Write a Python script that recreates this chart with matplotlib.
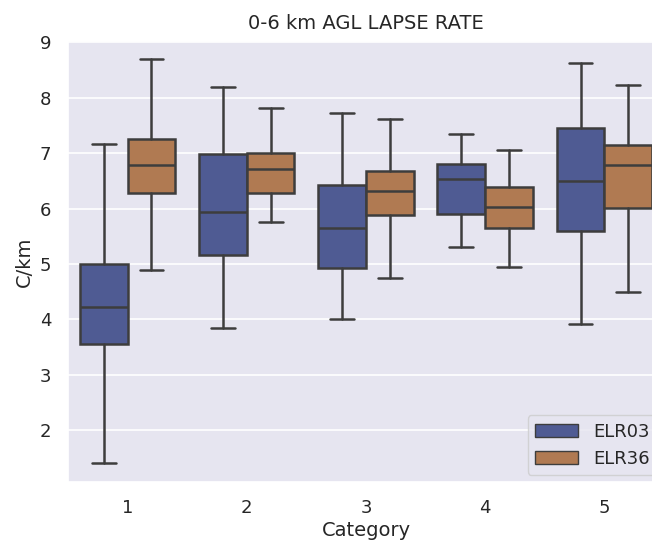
import matplotlib
matplotlib.use("Agg")
import matplotlib.pyplot as plt
from matplotlib.patches import Patch
import seaborn as sns

categories = ["1", "2", "3", "4", "5"]
series = ["ELR03", "ELR36"]

# five-number summaries: low whisker, q1, median, q3, high whisker
elr03_low = [1.42, 3.85, 4.00, 5.31, 3.91]
elr03_q1 = [3.56, 5.16, 4.93, 5.91, 5.60]
elr03_med = [4.23, 5.93, 5.64, 6.53, 6.49]
elr03_q3 = [5.00, 6.99, 6.42, 6.81, 7.45]
elr03_high = [7.16, 8.19, 7.73, 7.35, 8.62]

elr36_low = [4.89, 5.76, 4.74, 4.95, 4.50]
elr36_q1 = [6.28, 6.28, 5.88, 5.65, 6.01]
elr36_med = [6.78, 6.71, 6.32, 6.03, 6.78]
elr36_q3 = [7.25, 7.01, 6.68, 6.39, 7.14]
elr36_high = [8.70, 7.81, 7.62, 7.05, 8.22]

colors = ["#4F5B93", "#B07A52"]
line_col = "#3D3D3D"

sns.set_theme(style="darkgrid")
plt.rcParams["font.family"] = ["DejaVu Sans"]
plt.rcParams["axes.facecolor"] = "#E6E5F0"

fig = plt.figure(figsize=(6.52, 5.44), dpi=100)
ax = fig.add_axes([0.1043, 0.114, 0.914, 0.8106])


def stats(low, q1, med, q3, high):
    out = []
    for i in range(len(low)):
        out.append({"whislo": low[i], "q1": q1[i], "med": med[i],
                    "q3": q3[i], "whishi": high[i], "fliers": []})
    return out


all_stats = [stats(elr03_low, elr03_q1, elr03_med, elr03_q3, elr03_high),
             stats(elr36_low, elr36_q1, elr36_med, elr36_q3, elr36_high)]

lw = 1.8
for k in range(2):
    pos = [i + (-0.2 if k == 0 else 0.2) for i in range(len(categories))]
    ax.bxp(all_stats[k], positions=pos, widths=0.4, patch_artist=True,
           showfliers=False, manage_ticks=False,
           boxprops=dict(facecolor=colors[k], edgecolor=line_col, linewidth=lw),
           medianprops=dict(color=line_col, linewidth=lw),
           whiskerprops=dict(color=line_col, linewidth=lw),
           capprops=dict(color=line_col, linewidth=lw))

ax.set_xlim(-0.5, len(categories) - 0.5)
ax.set_ylim(1.07, 9.02)
ax.set_xticks(range(len(categories)))
ax.set_xticklabels(categories)
ax.set_yticks([2, 3, 4, 5, 6, 7, 8, 9])
ax.tick_params(labelsize=13, length=0, pad=12)
ax.set_xlabel("Category", fontsize=14, labelpad=3)
ax.set_ylabel("C/km", fontsize=14, labelpad=4)
ax.set_title("0-6 km AGL LAPSE RATE", fontsize=14, pad=9)
ax.grid(True, axis="y", color="white", linewidth=1.2)
ax.grid(False, axis="x")

handles = [Patch(facecolor=colors[k], edgecolor=line_col, linewidth=1.0, label=series[k])
           for k in range(2)]
ax.legend(handles=handles, loc="lower right", fontsize=13, handlelength=2.4,
          borderaxespad=0.4, edgecolor="#CCCCCC")

fig.savefig("out.png", dpi=100)
